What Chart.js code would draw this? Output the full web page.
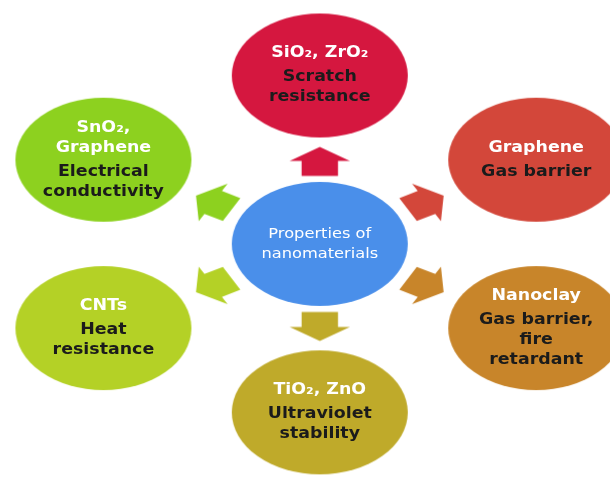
<!DOCTYPE html>
<html>
<head>
<meta charset="utf-8">
<script src="https://cdn.jsdelivr.net/npm/chart.js@4/dist/chart.umd.min.js"></script>
<style>
  html, body { margin: 0; padding: 0; background: #fff; }
  #wrap { width: 615px; height: 480px; }
</style>
</head>
<body>
<div id="wrap"><canvas id="diagram"></canvas></div>
<script>
// Nodes round the centre, clockwise from the top
const materials = [
  ['SiO₂, ZrO₂'],
  ['Graphene'],
  ['Nanoclay'],
  ['TiO₂, ZnO'],
  ['CNTs'],
  ['SnO₂,', 'Graphene']
];
const properties = [
  ['Scratch', 'resistance'],
  ['Gas barrier'],
  ['Gas barrier,', 'fire', 'retardant'],
  ['Ultraviolet', 'stability'],
  ['Heat', 'resistance'],
  ['Electrical', 'conductivity']
];
const centreLabel = ['Properties of', 'nanomaterials'];
const nodeAngles = [-90, -30, 30, 90, 150, 210];

// Styles
const nodeColours = ['#D5173F', '#D3473A', '#C8852A', '#BFAA2A', '#B4D126', '#8DD11F'];
const centreColour = '#4A8FEA';
const lightText = '#ffffff';
const darkText = '#1b1b1b';

const W = 615, H = 480;
const CX = 320, CY = 244, RX = 254, RY = 172;
const STRETCH = 1.4;      // the whole picture is wider than tall
const TEXT_STRETCH = 1.16;
const ARROW_AT = 0.49;

function ellipseCanvas(colour) {
  const c = document.createElement('canvas');
  c.width = 180; c.height = 128;
  const g = c.getContext('2d');
  g.fillStyle = colour;
  g.beginPath();
  g.ellipse(90, 64, 88, 62, 0, 0, Math.PI * 2);
  g.fill();
  return c;
}

function arrowCanvas(colour, angle) {
  const c = document.createElement('canvas');
  c.width = 80; c.height = 80;
  const g = c.getContext('2d');
  g.translate(40, 40);
  g.scale(STRETCH, 1);
  g.rotate(angle);
  const L = 29, head = 14, shaft = 13, wing = 21.5;
  g.fillStyle = colour;
  g.beginPath();
  g.moveTo(-L / 2, -shaft);
  g.lineTo(L / 2 - head, -shaft);
  g.lineTo(L / 2 - head, -wing);
  g.lineTo(L / 2, 0);
  g.lineTo(L / 2 - head, wing);
  g.lineTo(L / 2 - head, shaft);
  g.lineTo(-L / 2, shaft);
  g.closePath();
  g.fill();
  return c;
}

const rad = nodeAngles.map(a => a * Math.PI / 180);
const nodePoints = rad.map(a => ({ x: CX + RX * Math.cos(a), y: CY + RY * Math.sin(a) }));
const arrowPoints = rad.map(a => ({ x: CX + ARROW_AT * RX * Math.cos(a), y: CY + ARROW_AT * RY * Math.sin(a) }));
const nodeStyles = nodeColours.map(c => ellipseCanvas(c));
const arrowStyles = rad.map((a, i) =>
  arrowCanvas(nodeColours[i], Math.atan2(RY * Math.sin(a), RX * Math.cos(a) / STRETCH)));

function drawBlock(ctx, x, y, groups) {
  const LH = 20, GAP = 4;
  const count = groups.reduce((n, gr) => n + gr.lines.length, 0);
  let ty = y - (count * LH + GAP * (groups.length - 1)) / 2 + LH / 2;
  ctx.textAlign = 'center';
  ctx.textBaseline = 'middle';
  groups.forEach(gr => {
    ctx.font = gr.font;
    ctx.fillStyle = gr.colour;
    gr.lines.forEach(line => {
      ctx.save();
      ctx.translate(x, ty);
      ctx.scale(TEXT_STRETCH, 1);
      ctx.fillText(line, 0, 0);
      ctx.restore();
      ty += LH;
    });
    ty += GAP;
  });
}

const labelPlugin = {
  id: 'labels',
  afterDatasetsDraw(chart) {
    const ctx = chart.ctx;
    const bold = 'bold 15px "DejaVu Sans"';
    const c = chart.getDatasetMeta(0).data[0];
    drawBlock(ctx, c.x, c.y, [{ lines: centreLabel, colour: lightText, font: '14px "DejaVu Sans"' }]);
    chart.getDatasetMeta(1).data.forEach((pt, i) => {
      drawBlock(ctx, pt.x, pt.y, [
        { lines: materials[i], colour: lightText, font: bold },
        { lines: properties[i], colour: darkText, font: bold }
      ]);
    });
  }
};

new Chart(document.getElementById('diagram'), {
  type: 'scatter',
  data: {
    datasets: [
      { label: 'centre', data: [{ x: CX, y: CY }], pointStyle: ellipseCanvas(centreColour) },
      { label: 'nodes', data: nodePoints, pointStyle: nodeStyles },
      { label: 'arrows', data: arrowPoints, pointStyle: arrowStyles }
    ]
  },
  options: {
    responsive: true,
    maintainAspectRatio: false,
    animation: false,
    events: [],
    layout: { padding: 0 },
    scales: {
      x: { type: 'linear', min: 0, max: W, display: false },
      y: { type: 'linear', min: 0, max: H, reverse: true, display: false }
    },
    plugins: { legend: { display: false }, tooltip: { enabled: false } }
  },
  plugins: [labelPlugin]
});
</script>
</body>
</html>
